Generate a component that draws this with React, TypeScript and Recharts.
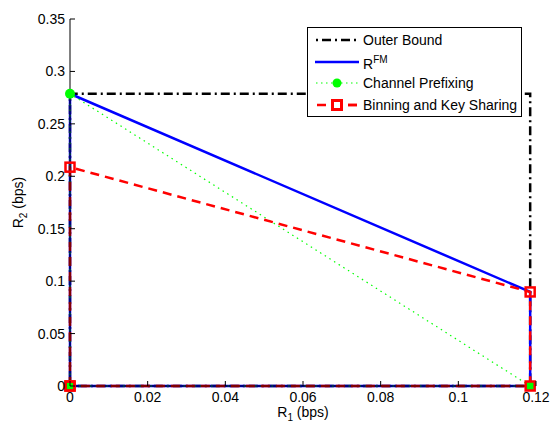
import React from "react";
import { LineChart, Line, XAxis, YAxis, Label } from "recharts";

// region corners: R1 and R2 in bps
const outerX = [0, 0, 0.1185, 0.1185, 0];
const outerY = [0, 0.2787, 0.2787, 0, 0];
const fmX = [0, 0, 0.1185, 0.1185, 0];
const fmY = [0, 0.2787, 0.0897, 0, 0];
const prefixX = [0, 0, 0.1185, 0];
const prefixY = [0, 0.2787, 0, 0];
const binX = [0, 0, 0.1185, 0.1185, 0];
const binY = [0, 0.2087, 0.0897, 0, 0];

const xTicks = [0, 0.02, 0.04, 0.06, 0.08, 0.1, 0.12];
const yTicks = [0, 0.05, 0.1, 0.15, 0.2, 0.25, 0.3, 0.35];

const font = "'Liberation Sans', Arial, sans-serif";

const pts = (xs: number[], ys: number[]) => xs.map((x, i) => ({ x, y: ys[i] }));

const XTick = (props: any) => {
  const { x, y, payload } = props;
  return (
    <g>
      <line x1={x} x2={x} y1={y} y2={y - 5} stroke="#000" />
      <text x={x} y={y + 16} textAnchor="middle" fontSize={14} fontFamily={font} fill="#000">
        {String(payload.value)}
      </text>
    </g>
  );
};

const YTick = (props: any) => {
  const { x, y, payload } = props;
  return (
    <g>
      <line x1={x} x2={x + 5} y1={y} y2={y} stroke="#000" />
      <text x={x - 5} y={y + 5} textAnchor="end" fontSize={14} fontFamily={font} fill="#000">
        {String(payload.value)}
      </text>
    </g>
  );
};

const greenDot = (p: any) => (
  <circle key={"g" + p.index} cx={p.cx} cy={p.cy} r={5} fill="#00ff00" />
);

const redSquare = (p: any) => (
  <rect
    key={"r" + p.index}
    x={p.cx - 4.5}
    y={p.cy - 4.5}
    width={9}
    height={9}
    fill="none"
    stroke="#ff0000"
    strokeWidth={2.5}
  />
);

const LegendBox = () => (
  <div
    style={{
      position: "absolute",
      left: 307,
      top: 27,
      width: 213,
      height: 88,
      border: "1px solid #000",
      background: "#fff",
      fontFamily: font,
      fontSize: 14,
    }}
  >
    {[
      { label: <>Outer Bound</>, kind: "outer" },
      { label: <>R<sup style={{ fontSize: 10, verticalAlign: 6 }}>FM</sup></>, kind: "fm" },
      { label: <>Channel Prefixing</>, kind: "prefix" },
      { label: <>Binning and Key Sharing</>, kind: "bin" },
    ].map((e, i) => (
      <div
        key={i}
        style={{ position: "absolute", left: 7, top: 4 + i * 21.5, height: 16, display: "flex", alignItems: "center" }}
      >
        <svg width={44} height={14} style={{ marginRight: 4 }}>
          {e.kind === "outer" && (
            <line x1={1} x2={44} y1={7} y2={7} stroke="#000" strokeWidth={2.5} strokeDasharray="2 4 9 4" />
          )}
          {e.kind === "fm" && <line x1={0} x2={44} y1={7} y2={7} stroke="#0000ff" strokeWidth={2.5} />}
          {e.kind === "prefix" && (
            <>
              <line x1={1} x2={44} y1={7} y2={7} stroke="#00ff00" strokeWidth={1.2} strokeDasharray="1.5 3.5" />
              <circle cx={22} cy={7} r={4.5} fill="#00ff00" />
            </>
          )}
          {e.kind === "bin" && (
            <>
              <line x1={2} x2={42} y1={7} y2={7} stroke="#ff0000" strokeWidth={2.5} strokeDasharray="9 22" />
              <line x1={33} x2={42} y1={7} y2={7} stroke="#ff0000" strokeWidth={2.5} />
              <rect x={17.5} y={2.5} width={9} height={9} fill="#fff" stroke="#ff0000" strokeWidth={3} />
            </>
          )}
        </svg>
        <span style={{ lineHeight: "16px" }}>{e.label}</span>
      </div>
    ))}
  </div>
);

export default function App() {
  return (
    <div style={{ position: "absolute", left: 0, top: 0, width: 550, height: 426, background: "#fff" }}>
      <LineChart width={550} height={426} margin={{ top: 19, right: 14, bottom: 0, left: 0 }}>
        <XAxis
          dataKey="x"
          type="number"
          domain={[0, 0.12]}
          ticks={xTicks}
          interval={0}
          height={40}
          tickLine={false}
          tickSize={0}
          tickMargin={0}
          tick={<XTick />}
          axisLine={{ stroke: "#000" }}
        >
          <Label
            content={(p: any) => {
              const vb = p.viewBox;
              const cx = vb.x + vb.width / 2;
              return (
                <text x={cx} y={vb.y + 31} textAnchor="middle" fontSize={14} fontFamily={font} fill="#000">
                  R<tspan dy={4} fontSize={10}>1</tspan>
                  <tspan dy={-4}> (bps)</tspan>
                </text>
              );
            }}
          />
        </XAxis>
        <YAxis
          dataKey="y"
          type="number"
          domain={[0, 0.35]}
          ticks={yTicks}
          interval={0}
          width={70}
          tickLine={false}
          tickSize={0}
          tickMargin={0}
          tick={<YTick />}
          axisLine={{ stroke: "#000" }}
        >
          <Label
            content={(p: any) => {
              const vb = p.viewBox;
              const cy = vb.y + vb.height / 2;
              return (
                <text
                  x={23}
                  y={cy}
                  transform={`rotate(-90 23 ${cy})`}
                  textAnchor="middle"
                  fontSize={14}
                  fontFamily={font}
                  fill="#000"
                >
                  R<tspan dy={4} fontSize={10}>2</tspan>
                  <tspan dy={-4}> (bps)</tspan>
                </text>
              );
            }}
          />
        </YAxis>
        <Line
          data={pts(outerX, outerY)}
          dataKey="y"
          type="linear"
          stroke="#000"
          strokeWidth={2.5}
          strokeDasharray="2 4 9 4"
          dot={false}
          activeDot={false}
          isAnimationActive={false}
        />
        <Line
          data={pts(fmX, fmY)}
          dataKey="y"
          type="linear"
          stroke="#0000ff"
          strokeWidth={2.5}
          dot={false}
          activeDot={false}
          isAnimationActive={false}
        />
        <Line
          data={pts(prefixX, prefixY)}
          dataKey="y"
          type="linear"
          stroke="#00ff00"
          strokeWidth={1.2}
          strokeDasharray="1.5 4"
          dot={greenDot}
          activeDot={false}
          isAnimationActive={false}
        />
        <Line
          data={pts(binX, binY)}
          dataKey="y"
          type="linear"
          stroke="#ff0000"
          strokeWidth={2.5}
          strokeDasharray="9 6"
          dot={redSquare}
          activeDot={false}
          isAnimationActive={false}
        />
      </LineChart>
      <LegendBox />
    </div>
  );
}
